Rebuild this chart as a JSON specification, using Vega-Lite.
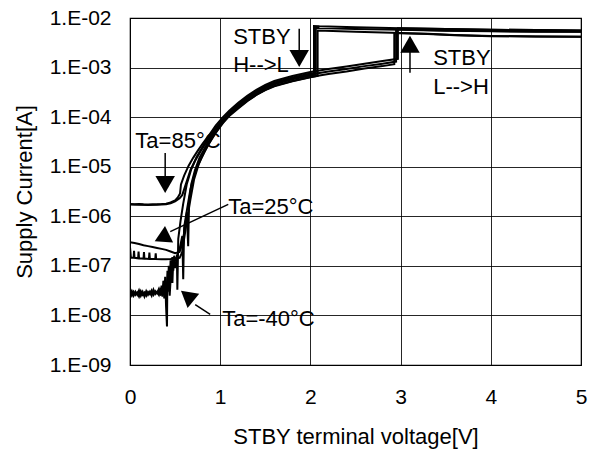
{
  "$schema": "https://vega.github.io/schema/vega-lite/v6.json",
  "width": 451,
  "height": 347,
  "autosize": {"type": "none"},
  "padding": {"left": 130, "top": 18, "right": 15, "bottom": 87},
  "background": "white",
  "config": {
    "font": "Liberation Sans",
    "view": {"stroke": "#000", "strokeWidth": 1.2},
    "axis": {
      "grid": true, "gridColor": "#000", "gridOpacity": 0.85, "gridWidth": 1,
      "ticks": false, "domain": false,
      "labelFont": "Liberation Sans", "labelFontSize": 21, "labelColor": "#000",
      "titleFont": "Liberation Sans", "titleFontSize": 22, "titleFontWeight": "normal", "titleColor": "#000",
      "labelFlush": false, "labelOverlap": false
    }
  },
  "datasets": {
    "curves": [
      {"s":"85u","i":0,"x":0,"y":1.78e-6},{"s":"85u","i":1,"x":0.05,"y":1.75e-6},{"s":"85u","i":2,"x":0.1,"y":1.76e-6},{"s":"85u","i":3,"x":0.15,"y":1.74e-6},{"s":"85u","i":4,"x":0.2,"y":1.73e-6},{"s":"85u","i":5,"x":0.25,"y":1.74e-6},{"s":"85u","i":6,"x":0.3,"y":1.75e-6},{"s":"85u","i":7,"x":0.35,"y":1.76e-6},{"s":"85u","i":8,"x":0.4,"y":1.8e-6},{"s":"85u","i":9,"x":0.45,"y":1.9e-6},{"s":"85u","i":10,"x":0.5,"y":2.1e-6},{"s":"85u","i":11,"x":0.53,"y":2.4e-6},{"s":"85u","i":12,"x":0.555,"y":2.9e-6},{"s":"85u","i":13,"x":0.565,"y":4.4e-6},{"s":"85u","i":14,"x":0.6,"y":6.6e-6},{"s":"85u","i":15,"x":0.65,"y":1.05e-5},{"s":"85u","i":16,"x":0.7,"y":1.51e-5},{"s":"85u","i":17,"x":0.75,"y":2.09e-5},{"s":"85u","i":18,"x":0.8,"y":2.82e-5},{"s":"85u","i":19,"x":0.87,"y":4.17e-5},{"s":"85u","i":20,"x":0.95,"y":6.76e-5},{"s":"85u","i":21,"x":1.03,"y":1.0e-4},{"s":"85u","i":22,"x":1.1,"y":1.35e-4},{"s":"85u","i":23,"x":1.2,"y":1.95e-4},{"s":"85u","i":24,"x":1.3,"y":2.69e-4},{"s":"85u","i":25,"x":1.4,"y":3.55e-4},{"s":"85u","i":26,"x":1.5,"y":4.47e-4},{"s":"85u","i":27,"x":1.6,"y":5.37e-4},{"s":"85u","i":28,"x":1.8,"y":6.76e-4},{"s":"85u","i":29,"x":2.0,"y":8.13e-4},{"s":"85u","i":30,"x":2.2,"y":9.33e-4},{"s":"85u","i":31,"x":2.4,"y":1.05e-3},{"s":"85u","i":32,"x":2.6,"y":1.2e-3},{"s":"85u","i":33,"x":2.8,"y":1.35e-3},{"s":"85u","i":34,"x":2.97,"y":1.5e-3},{"s":"85u","i":35,"x":2.97,"y":6.2e-3},{"s":"85u","i":36,"x":3.0,"y":6.2e-3},{"s":"85u","i":37,"x":3.5,"y":6.0e-3},{"s":"85u","i":38,"x":4.0,"y":5.8e-3},{"s":"85u","i":39,"x":4.5,"y":5.7e-3},{"s":"85u","i":40,"x":5.0,"y":5.6e-3},

      {"s":"85d","i":0,"x":0,"y":1.72e-6},{"s":"85d","i":1,"x":0.1,"y":1.7e-6},{"s":"85d","i":2,"x":0.2,"y":1.69e-6},{"s":"85d","i":3,"x":0.3,"y":1.7e-6},{"s":"85d","i":4,"x":0.4,"y":1.74e-6},{"s":"85d","i":5,"x":0.45,"y":1.82e-6},{"s":"85d","i":6,"x":0.5,"y":2.0e-6},{"s":"85d","i":7,"x":0.55,"y":2.3e-6},{"s":"85d","i":8,"x":0.58,"y":2.7e-6},{"s":"85d","i":9,"x":0.62,"y":4.5e-6},{"s":"85d","i":10,"x":0.67,"y":8.5e-6},{"s":"85d","i":11,"x":0.72,"y":1.3e-5},{"s":"85d","i":12,"x":0.78,"y":2.0e-5},{"s":"85d","i":13,"x":0.85,"y":3.2e-5},{"s":"85d","i":14,"x":0.93,"y":5.3e-5},{"s":"85d","i":15,"x":1.02,"y":8.5e-5},{"s":"85d","i":16,"x":1.1,"y":1.25e-4},{"s":"85d","i":17,"x":1.2,"y":1.8e-4},{"s":"85d","i":18,"x":1.3,"y":2.5e-4},{"s":"85d","i":19,"x":1.4,"y":3.3e-4},{"s":"85d","i":20,"x":1.5,"y":4.2e-4},{"s":"85d","i":21,"x":1.6,"y":5.0e-4},{"s":"85d","i":22,"x":1.8,"y":6.3e-4},{"s":"85d","i":23,"x":2.0,"y":7.6e-4},{"s":"85d","i":24,"x":2.04,"y":7.8e-4},{"s":"85d","i":25,"x":2.04,"y":6.9e-3},{"s":"85d","i":26,"x":2.1,"y":6.8e-3},{"s":"85d","i":27,"x":2.5,"y":6.5e-3},{"s":"85d","i":28,"x":3.0,"y":6.2e-3},{"s":"85d","i":29,"x":3.5,"y":6.0e-3},{"s":"85d","i":30,"x":4.0,"y":5.8e-3},{"s":"85d","i":31,"x":4.5,"y":5.7e-3},{"s":"85d","i":32,"x":5.0,"y":5.6e-3},

      {"s":"25u","i":0,"x":0,"y":3.0e-7},{"s":"25u","i":1,"x":0.05,"y":2.9e-7},{"s":"25u","i":2,"x":0.1,"y":2.75e-7},{"s":"25u","i":3,"x":0.15,"y":2.6e-7},{"s":"25u","i":4,"x":0.2,"y":2.5e-7},{"s":"25u","i":5,"x":0.25,"y":2.4e-7},{"s":"25u","i":6,"x":0.3,"y":2.3e-7},{"s":"25u","i":7,"x":0.35,"y":2.2e-7},{"s":"25u","i":8,"x":0.4,"y":2.1e-7},{"s":"25u","i":9,"x":0.45,"y":1.95e-7},{"s":"25u","i":10,"x":0.5,"y":1.8e-7},{"s":"25u","i":11,"x":0.55,"y":1.9e-7},{"s":"25u","i":12,"x":0.58,"y":2.8e-7},{"s":"25u","i":13,"x":0.61,"y":6e-7},{"s":"25u","i":14,"x":0.63,"y":1.2e-6},{"s":"25u","i":15,"x":0.645,"y":2.5e-7},{"s":"25u","i":16,"x":0.655,"y":2.0e-6},{"s":"25u","i":17,"x":0.68,"y":4.5e-6},{"s":"25u","i":18,"x":0.72,"y":8.5e-6},{"s":"25u","i":19,"x":0.77,"y":1.5e-5},{"s":"25u","i":20,"x":0.84,"y":2.6e-5},{"s":"25u","i":21,"x":0.92,"y":4.5e-5},{"s":"25u","i":22,"x":1.0,"y":7.4e-5},{"s":"25u","i":23,"x":1.08,"y":1.08e-4},{"s":"25u","i":24,"x":1.2,"y":1.74e-4},{"s":"25u","i":25,"x":1.3,"y":2.4e-4},{"s":"25u","i":26,"x":1.4,"y":3.16e-4},{"s":"25u","i":27,"x":1.5,"y":3.98e-4},{"s":"25u","i":28,"x":1.6,"y":4.79e-4},{"s":"25u","i":29,"x":1.8,"y":6.03e-4},{"s":"25u","i":30,"x":2.0,"y":7.24e-4},{"s":"25u","i":31,"x":2.2,"y":8.32e-4},{"s":"25u","i":32,"x":2.4,"y":9.33e-4},{"s":"25u","i":33,"x":2.6,"y":1.07e-3},{"s":"25u","i":34,"x":2.8,"y":1.2e-3},{"s":"25u","i":35,"x":2.95,"y":1.32e-3},{"s":"25u","i":36,"x":2.95,"y":5.9e-3},{"s":"25u","i":37,"x":3.0,"y":5.85e-3},{"s":"25u","i":38,"x":3.5,"y":5.6e-3},{"s":"25u","i":39,"x":4.0,"y":5.45e-3},{"s":"25u","i":40,"x":4.5,"y":5.35e-3},{"s":"25u","i":41,"x":5.0,"y":5.3e-3},

      {"s":"25d","i":0,"x":0,"y":2.4e-7},{"s":"25d","i":1,"x":0.01,"y":1.45e-7},{"s":"25d","i":2,"x":0.04,"y":1.45e-7},{"s":"25d","i":3,"x":0.045,"y":2.0e-7},{"s":"25d","i":4,"x":0.05,"y":1.45e-7},{"s":"25d","i":5,"x":0.09,"y":1.42e-7},{"s":"25d","i":6,"x":0.095,"y":1.95e-7},{"s":"25d","i":7,"x":0.1,"y":1.42e-7},{"s":"25d","i":8,"x":0.15,"y":1.4e-7},{"s":"25d","i":9,"x":0.155,"y":1.9e-7},{"s":"25d","i":10,"x":0.16,"y":1.4e-7},{"s":"25d","i":11,"x":0.21,"y":1.38e-7},{"s":"25d","i":12,"x":0.215,"y":1.85e-7},{"s":"25d","i":13,"x":0.22,"y":1.38e-7},{"s":"25d","i":14,"x":0.28,"y":1.37e-7},{"s":"25d","i":15,"x":0.285,"y":1.8e-7},{"s":"25d","i":16,"x":0.29,"y":1.37e-7},{"s":"25d","i":17,"x":0.35,"y":1.36e-7},{"s":"25d","i":18,"x":0.4,"y":1.36e-7},{"s":"25d","i":19,"x":0.45,"y":1.37e-7},{"s":"25d","i":20,"x":0.5,"y":1.4e-7},{"s":"25d","i":21,"x":0.55,"y":1.45e-7},{"s":"25d","i":22,"x":0.58,"y":1.9e-7},{"s":"25d","i":23,"x":0.6,"y":3.5e-7},{"s":"25d","i":24,"x":0.63,"y":8e-7},{"s":"25d","i":25,"x":0.67,"y":2.2e-6},{"s":"25d","i":26,"x":0.71,"y":5.5e-6},{"s":"25d","i":27,"x":0.76,"y":1.1e-5},{"s":"25d","i":28,"x":0.83,"y":2.1e-5},{"s":"25d","i":29,"x":0.91,"y":3.8e-5},{"s":"25d","i":30,"x":0.99,"y":6.3e-5},{"s":"25d","i":31,"x":1.07,"y":9.6e-5},{"s":"25d","i":32,"x":1.2,"y":1.6e-4},{"s":"25d","i":33,"x":1.3,"y":2.3e-4},{"s":"25d","i":34,"x":1.4,"y":3.0e-4},{"s":"25d","i":35,"x":1.5,"y":3.8e-4},{"s":"25d","i":36,"x":1.6,"y":4.6e-4},{"s":"25d","i":37,"x":1.8,"y":5.8e-4},{"s":"25d","i":38,"x":2.0,"y":6.9e-4},{"s":"25d","i":39,"x":2.06,"y":7.2e-4},{"s":"25d","i":40,"x":2.06,"y":6.3e-3},{"s":"25d","i":41,"x":2.1,"y":6.25e-3},{"s":"25d","i":42,"x":2.5,"y":6.0e-3},{"s":"25d","i":43,"x":3.0,"y":5.8e-3},{"s":"25d","i":44,"x":3.5,"y":5.55e-3},{"s":"25d","i":45,"x":4.0,"y":5.4e-3},{"s":"25d","i":46,"x":4.5,"y":5.3e-3},{"s":"25d","i":47,"x":5.0,"y":5.25e-3},

      {"s":"m40u","i":0,"x":0,"y":2.9e-8},{"s":"m40u","i":1,"x":0.02,"y":2.5e-8},{"s":"m40u","i":2,"x":0.04,"y":3.0e-8},{"s":"m40u","i":3,"x":0.06,"y":2.6e-8},{"s":"m40u","i":4,"x":0.08,"y":2.9e-8},{"s":"m40u","i":5,"x":0.1,"y":2.4e-8},{"s":"m40u","i":6,"x":0.12,"y":3.1e-8},{"s":"m40u","i":7,"x":0.14,"y":2.6e-8},{"s":"m40u","i":8,"x":0.16,"y":2.9e-8},{"s":"m40u","i":9,"x":0.18,"y":2.5e-8},{"s":"m40u","i":10,"x":0.2,"y":3.0e-8},{"s":"m40u","i":11,"x":0.22,"y":2.7e-8},{"s":"m40u","i":12,"x":0.24,"y":3.2e-8},{"s":"m40u","i":13,"x":0.26,"y":2.6e-8},{"s":"m40u","i":14,"x":0.28,"y":3.1e-8},{"s":"m40u","i":15,"x":0.3,"y":2.8e-8},{"s":"m40u","i":16,"x":0.32,"y":3.4e-8},{"s":"m40u","i":17,"x":0.34,"y":2.5e-8},{"s":"m40u","i":18,"x":0.35,"y":4e-8},{"s":"m40u","i":19,"x":0.36,"y":2.6e-8},{"s":"m40u","i":20,"x":0.37,"y":5e-8},{"s":"m40u","i":21,"x":0.38,"y":2.2e-8},{"s":"m40u","i":22,"x":0.39,"y":6e-8},{"s":"m40u","i":23,"x":0.4,"y":1.5e-8},{"s":"m40u","i":24,"x":0.41,"y":6e-9},{"s":"m40u","i":25,"x":0.415,"y":8e-8},{"s":"m40u","i":26,"x":0.42,"y":3e-8},{"s":"m40u","i":27,"x":0.43,"y":1e-7},{"s":"m40u","i":28,"x":0.44,"y":4e-8},{"s":"m40u","i":29,"x":0.45,"y":1.3e-7},{"s":"m40u","i":30,"x":0.46,"y":6e-8},{"s":"m40u","i":31,"x":0.47,"y":1.5e-7},{"s":"m40u","i":32,"x":0.48,"y":8e-8},{"s":"m40u","i":33,"x":0.49,"y":1.6e-7},{"s":"m40u","i":34,"x":0.5,"y":1.3e-7},{"s":"m40u","i":35,"x":0.52,"y":1.5e-7},{"s":"m40u","i":36,"x":0.525,"y":3.3e-8},{"s":"m40u","i":37,"x":0.535,"y":3.5e-7},{"s":"m40u","i":38,"x":0.56,"y":8e-7},{"s":"m40u","i":39,"x":0.59,"y":1.8e-6},{"s":"m40u","i":40,"x":0.63,"y":4.5e-6},{"s":"m40u","i":41,"x":0.68,"y":9e-6},{"s":"m40u","i":42,"x":0.74,"y":1.6e-5},{"s":"m40u","i":43,"x":0.82,"y":2.8e-5},{"s":"m40u","i":44,"x":0.9,"y":4.6e-5},{"s":"m40u","i":45,"x":0.98,"y":7e-5},{"s":"m40u","i":46,"x":1.06,"y":1.0e-4},{"s":"m40u","i":47,"x":1.1,"y":1.12e-4},{"s":"m40u","i":48,"x":1.2,"y":1.55e-4},{"s":"m40u","i":49,"x":1.3,"y":2.14e-4},{"s":"m40u","i":50,"x":1.4,"y":2.82e-4},{"s":"m40u","i":51,"x":1.5,"y":3.55e-4},{"s":"m40u","i":52,"x":1.6,"y":4.27e-4},{"s":"m40u","i":53,"x":1.8,"y":5.37e-4},{"s":"m40u","i":54,"x":2.0,"y":6.46e-4},{"s":"m40u","i":55,"x":2.2,"y":7.41e-4},{"s":"m40u","i":56,"x":2.4,"y":8.32e-4},{"s":"m40u","i":57,"x":2.6,"y":9.55e-4},{"s":"m40u","i":58,"x":2.8,"y":1.07e-3},{"s":"m40u","i":59,"x":2.93,"y":1.17e-3},{"s":"m40u","i":60,"x":2.93,"y":5.0e-3},{"s":"m40u","i":61,"x":3.0,"y":4.95e-3},{"s":"m40u","i":62,"x":3.3,"y":4.75e-3},{"s":"m40u","i":63,"x":3.6,"y":4.5e-3},{"s":"m40u","i":64,"x":4.0,"y":4.3e-3},{"s":"m40u","i":65,"x":4.5,"y":4.25e-3},{"s":"m40u","i":66,"x":5.0,"y":4.2e-3},

      {"s":"m40d","i":0,"x":0,"y":2.6e-8},{"s":"m40d","i":1,"x":0.02,"y":3.1e-8},{"s":"m40d","i":2,"x":0.04,"y":2.5e-8},{"s":"m40d","i":3,"x":0.06,"y":3.0e-8},{"s":"m40d","i":4,"x":0.08,"y":2.6e-8},{"s":"m40d","i":5,"x":0.1,"y":3.2e-8},{"s":"m40d","i":6,"x":0.12,"y":2.5e-8},{"s":"m40d","i":7,"x":0.14,"y":3.0e-8},{"s":"m40d","i":8,"x":0.16,"y":2.4e-8},{"s":"m40d","i":9,"x":0.18,"y":3.1e-8},{"s":"m40d","i":10,"x":0.2,"y":2.6e-8},{"s":"m40d","i":11,"x":0.22,"y":3.0e-8},{"s":"m40d","i":12,"x":0.24,"y":2.5e-8},{"s":"m40d","i":13,"x":0.26,"y":3.3e-8},{"s":"m40d","i":14,"x":0.28,"y":2.7e-8},{"s":"m40d","i":15,"x":0.3,"y":3.0e-8},{"s":"m40d","i":16,"x":0.32,"y":2.6e-8},{"s":"m40d","i":17,"x":0.34,"y":3.6e-8},{"s":"m40d","i":18,"x":0.36,"y":2.4e-8},{"s":"m40d","i":19,"x":0.38,"y":5e-8},{"s":"m40d","i":20,"x":0.4,"y":2e-8},{"s":"m40d","i":21,"x":0.42,"y":7e-8},{"s":"m40d","i":22,"x":0.44,"y":2.5e-8},{"s":"m40d","i":23,"x":0.46,"y":1.1e-7},{"s":"m40d","i":24,"x":0.47,"y":4.5e-8},{"s":"m40d","i":25,"x":0.48,"y":1.4e-7},{"s":"m40d","i":26,"x":0.5,"y":9e-8},{"s":"m40d","i":27,"x":0.52,"y":1.6e-7},{"s":"m40d","i":28,"x":0.55,"y":2.2e-7},{"s":"m40d","i":29,"x":0.58,"y":4e-7},{"s":"m40d","i":30,"x":0.59,"y":5.4e-8},{"s":"m40d","i":31,"x":0.6,"y":6e-7},{"s":"m40d","i":32,"x":0.63,"y":1.3e-6},{"s":"m40d","i":33,"x":0.67,"y":3.5e-6},{"s":"m40d","i":34,"x":0.72,"y":7.5e-6},{"s":"m40d","i":35,"x":0.79,"y":1.5e-5},{"s":"m40d","i":36,"x":0.87,"y":2.8e-5},{"s":"m40d","i":37,"x":0.95,"y":4.8e-5},{"s":"m40d","i":38,"x":1.03,"y":7.6e-5},{"s":"m40d","i":39,"x":1.1,"y":1.05e-4},{"s":"m40d","i":40,"x":1.2,"y":1.5e-4},{"s":"m40d","i":41,"x":1.3,"y":2.1e-4},{"s":"m40d","i":42,"x":1.4,"y":2.8e-4},{"s":"m40d","i":43,"x":1.5,"y":3.5e-4},{"s":"m40d","i":44,"x":1.6,"y":4.2e-4},{"s":"m40d","i":45,"x":1.8,"y":5.3e-4},{"s":"m40d","i":46,"x":2.0,"y":6.4e-4},{"s":"m40d","i":47,"x":2.08,"y":6.8e-4},{"s":"m40d","i":48,"x":2.08,"y":5.6e-3},{"s":"m40d","i":49,"x":2.5,"y":5.3e-3},{"s":"m40d","i":50,"x":3.0,"y":5.0e-3},{"s":"m40d","i":51,"x":3.3,"y":4.8e-3},{"s":"m40d","i":52,"x":3.6,"y":4.55e-3},{"s":"m40d","i":53,"x":4.0,"y":4.35e-3},{"s":"m40d","i":54,"x":4.5,"y":4.25e-3},{"s":"m40d","i":55,"x":5.0,"y":4.2e-3}
    ],
    "labels": [
      {"t":"STBY","x":1.144,"y":4.2e-3},
      {"t":"H-->L","x":1.144,"y":1.14e-3},
      {"t":"STBY","x":3.361,"y":1.58e-3},
      {"t":"L-->H","x":3.361,"y":4.03e-4},
      {"t":"Ta=85°C","x":0.059,"y":3.36e-5},
      {"t":"Ta=25°C","x":1.089,"y":1.53e-6},
      {"t":"Ta=-40°C","x":1.022,"y":8.65e-9}
    ],
    "arrows": [
      {"a":"t85","x":0.39,"y":1.9e-5,"x2":0.39,"y2":6.0e-6,"hx":0.39,"hy":5.0e-6},
      {"a":"t25","x":1.089,"y":1.74e-6,"x2":0.446,"y2":4.9e-7,"hx":0.38,"hy":3.9e-7},
      {"a":"t40","x":0.889,"y":1.05e-8,"x2":0.723,"y2":1.66e-8,"hx":0.657,"hy":2.3e-8},
      {"a":"hl","x":1.876,"y":6.1e-3,"x2":1.876,"y2":1.9e-3,"hx":1.876,"hy":1.74e-3},
      {"a":"lh","x":3.104,"y":7.9e-4,"x2":3.104,"y2":2.3e-3,"hx":3.104,"hy":2.6e-3}
    ]
  },
  "layer": [
    {
      "data": {"name": "curves"},
      "mark": {"type": "line", "color": "#000", "strokeWidth": 2, "clip": true},
      "encoding": {
        "x": {"field": "x", "type": "quantitative",
              "scale": {"domain": [0, 5], "nice": false, "zero": false},
              "axis": {"values": [0, 1, 2, 3, 4, 5], "format": "d", "labelPadding": 32, "labelBaseline": "middle",
                       "title": "STBY terminal voltage[V]", "titleY": 71, "titleBaseline": "middle"}},
        "y": {"field": "y", "type": "quantitative",
              "scale": {"type": "log", "domain": [1e-9, 1e-2], "nice": false},
              "axis": {"values": [1e-9, 1e-8, 1e-7, 1e-6, 1e-5, 1e-4, 1e-3, 1e-2], "labelPadding": 19,
                       "labelExpr": "'1.E-0' + abs(round(log(datum.value)/LN10))",
                       "title": "Supply Current[A]", "titleX": -106, "titleY": 173.5, "titleAngle": -90,
                       "titleAlign": "center", "titleBaseline": "middle"}},
        "detail": {"field": "s"},
        "order": {"field": "i", "type": "quantitative"}
      }
    },
    {
      "data": {"name": "arrows"},
      "mark": {"type": "rule", "color": "#000", "strokeWidth": 1.5},
      "encoding": {
        "x": {"field": "x", "type": "quantitative"},
        "y": {"field": "y", "type": "quantitative"},
        "x2": {"field": "x2"},
        "y2": {"field": "y2"}
      }
    },
    {"data": {"name": "arrows"}, "transform": [{"filter": "datum.a === 't85' || datum.a === 'hl'"}],
     "mark": {"type": "point", "shape": "triangle", "angle": 180, "filled": true, "color": "#000", "size": 380, "opacity": 1},
     "encoding": {"x": {"field": "hx", "type": "quantitative"}, "y": {"field": "hy", "type": "quantitative"}}},
    {"data": {"name": "arrows"}, "transform": [{"filter": "datum.a === 'lh'"}],
     "mark": {"type": "point", "shape": "triangle", "angle": 0, "filled": true, "color": "#000", "size": 380, "opacity": 1},
     "encoding": {"x": {"field": "hx", "type": "quantitative"}, "y": {"field": "hy", "type": "quantitative"}}},
    {"data": {"name": "arrows"}, "transform": [{"filter": "datum.a === 't25'"}],
     "mark": {"type": "point", "shape": "triangle", "angle": 244, "filled": true, "color": "#000", "size": 340, "opacity": 1},
     "encoding": {"x": {"field": "hx", "type": "quantitative"}, "y": {"field": "hy", "type": "quantitative"}}},
    {"data": {"name": "arrows"}, "transform": [{"filter": "datum.a === 't40'"}],
     "mark": {"type": "point", "shape": "triangle", "angle": 309, "filled": true, "color": "#000", "size": 340, "opacity": 1},
     "encoding": {"x": {"field": "hx", "type": "quantitative"}, "y": {"field": "hy", "type": "quantitative"}}},
    {
      "data": {"name": "labels"},
      "mark": {"type": "text", "align": "left", "baseline": "middle", "font": "Liberation Sans", "fontSize": 22, "color": "#000"},
      "encoding": {
        "x": {"field": "x", "type": "quantitative"},
        "y": {"field": "y", "type": "quantitative"},
        "text": {"field": "t"}
      }
    }
  ]
}
